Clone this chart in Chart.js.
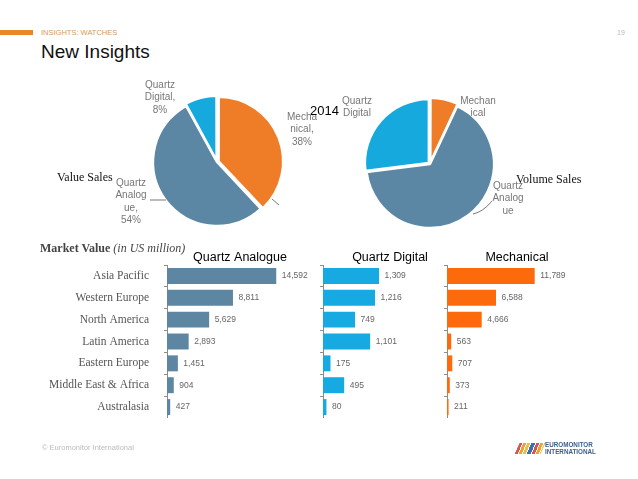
<!DOCTYPE html>
<html>
<head>
<meta charset="utf-8">
<script src="https://cdn.jsdelivr.net/npm/chart.js@4.4.0/dist/chart.umd.min.js"></script>
<style>
  html, body { margin: 0; padding: 0; background: #fff; }
  #slide { position: relative; width: 638px; height: 479px; overflow: hidden; font-family: "Liberation Sans", Arial, sans-serif; }
  #slide canvas, #slide .txt, #slide svg { position: absolute; }
  .txt { white-space: nowrap; }
  .pie-label { font-size: 10px; line-height: 12.3px; color: #777; text-align: center; white-space: normal; overflow-wrap: anywhere; }
  .serif { font-family: "Liberation Serif", "Times New Roman", serif; }
</style>
</head>
<body>
<div id="slide">
  <div style="position:absolute;left:0;top:30px;width:33px;height:5px;background:#e8862a;"></div>
  <div class="txt" style="left:41px;top:28px;font-size:7.5px;line-height:10px;color:#d39a5e;">INSIGHTS: WATCHES</div>
  <div class="txt" style="left:41px;top:42px;font-size:19px;line-height:19px;color:#111;">New Insights</div>
  <div class="txt" style="left:617px;top:28px;font-size:7px;line-height:10px;color:#bbb;">19</div>

  <canvas id="valuePie" width="170" height="170" style="left:132px;top:77px;"></canvas>
  <canvas id="volumePie" width="170" height="170" style="left:345px;top:79px;"></canvas>

  <svg width="638" height="479" style="left:0;top:0;">
    <line x1="150" y1="200" x2="166" y2="200" stroke="#555" stroke-width="0.8"/>
    <line x1="272" y1="199" x2="279" y2="205" stroke="#555" stroke-width="0.8"/>
    <path d="M473 214 Q483 212 492 201" fill="none" stroke="#555" stroke-width="0.8"/>
  </svg>

  <div id="pieLabels"></div>

  <div class="txt serif" style="left:57px;top:170px;font-size:12px;line-height:14px;color:#111;">Value Sales</div>
  <div class="txt serif" style="left:516px;top:172px;font-size:12px;line-height:14px;color:#111;">Volume Sales</div>
  <div class="txt" style="left:310px;top:103px;font-size:13px;line-height:16px;color:#000;">2014</div>

  <div class="txt serif" style="left:40px;top:241px;font-size:12px;line-height:14px;color:#444;"><b>Market Value</b> <i>(in US million)</i></div>

  <canvas id="barAnalogue" width="283" height="168" style="left:30px;top:250px;"></canvas>
  <canvas id="barDigital" width="140" height="168" style="left:317px;top:250px;"></canvas>
  <canvas id="barMechanical" width="146" height="168" style="left:441px;top:250px;"></canvas>

  <div class="txt" style="left:42px;top:443px;font-size:7.5px;line-height:10px;color:#bbb;">© Euromonitor International</div>
  <div style="position:absolute;left:517px;top:443px;width:26px;height:11px;transform:skewX(-25deg);background:repeating-linear-gradient(90deg,#d9534f 0 3px,#fff 3px 4px,#f0a030 4px 7px,#fff 7px 8px,#e5c341 8px 11px,#fff 11px 12px,#3a6fb0 12px 16px,#fff 16px 17px);"></div>
  <div class="txt" style="left:545px;top:442px;font-size:6.3px;line-height:6.5px;font-weight:bold;color:#3d5f8a;">EUROMONITOR<br>INTERNATIONAL</div>
</div>

<script>
// ---------- data ----------
const regions = ['Asia Pacific', 'Western Europe', 'North America', 'Latin America', 'Eastern Europe', 'Middle East & Africa', 'Australasia'];
const quartzAnalogue = [14592, 8811, 5629, 2893, 1451, 904, 427];
const quartzDigital = [1309, 1216, 749, 1101, 175, 495, 80];
const mechanical = [11789, 6588, 4666, 563, 707, 373, 211];

const pieSegments = ['Mechanical', 'Quartz Analogue', 'Quartz Digital'];
const valueShare = [38, 54, 8];
const volumeShare = [7, 66, 27];

const pieColors = ['#ef7d27', '#5b87a4', '#15a9dd'];

// ---------- pies ----------
function makePie(id, values, offsets) {
    return new Chart(document.getElementById(id), {
        type: 'pie',
        data: {
            labels: pieSegments,
            datasets: [{
                data: values,
                backgroundColor: pieColors,
                borderColor: '#fff',
                borderWidth: 2.5,
                offset: offsets
            }]
        },
        options: {
            responsive: false,
            animation: false,
            radius: 64,
            layout: { padding: 0 },
            plugins: { legend: { display: false }, tooltip: { enabled: false } }
        }
    });
}

makePie('valuePie', valueShare, [7, 0, 6]);
makePie('volumePie', volumeShare, [6, 0, 6]);

// pie labels (value pie shows share, volume pie only the name)
const pieLabelBoxes = [
    { text: `${pieSegments[2]}, ${valueShare[2]}%`, cx: 160, top: 79, w: 42 },
    { text: `${pieSegments[0]}, ${valueShare[0]}%`, cx: 302, top: 111, w: 32 },
    { text: `${pieSegments[1]}, ${valueShare[1]}%`, cx: 131, top: 177, w: 34 },
    { text: pieSegments[2], cx: 357, top: 95, w: 36 },
    { text: pieSegments[0], cx: 478, top: 95, w: 37 },
    { text: pieSegments[1], cx: 508, top: 180, w: 34 }
];
document.getElementById('pieLabels').innerHTML = pieLabelBoxes.map(b =>
    `<div class="txt pie-label" style="left:${b.cx - b.w / 2}px;top:${b.top}px;width:${b.w}px;">${b.text}</div>`
).join('');

// ---------- bars ----------
const valueLabels = {
    id: 'valueLabels',
    afterDatasetsDraw(chart) {
        const ctx = chart.ctx;
        const values = chart.data.datasets[0].data;
        ctx.save();
        ctx.font = '8.5px "Liberation Sans", Arial, sans-serif';
        ctx.fillStyle = '#666';
        ctx.textAlign = 'left';
        ctx.textBaseline = 'middle';
        chart.getDatasetMeta(0).data.forEach((bar, i) => {
            ctx.fillText(values[i].toLocaleString('en-US'), bar.x + 5.5, bar.y);
        });
        ctx.restore();
    }
};

function makeBarChart(id, title, values, color, maxValue, showLabels, axisWidth) {
    return new Chart(document.getElementById(id), {
        type: 'bar',
        data: {
            labels: regions,
            datasets: [{
                data: values,
                backgroundColor: color,
                barPercentage: 0.73,
                categoryPercentage: 1
            }]
        },
        options: {
            indexAxis: 'y',
            responsive: false,
            animation: false,
            layout: { padding: 0 },
            scales: {
                x: { display: false, min: 0, max: maxValue },
                y: {
                    border: { display: true, color: '#8c8c8c', width: 1 },
                    grid: { display: true, drawOnChartArea: false, drawTicks: true, tickLength: 3, color: '#8c8c8c', offset: true },
                    ticks: {
                        display: showLabels,
                        color: '#555',
                        padding: 15,
                        font: { family: '"Liberation Serif", "Times New Roman", serif', size: 11.5 }
                    },
                    afterFit(scale) {
                        scale.width = axisWidth;
                        scale.paddingTop = 0;
                        scale.paddingBottom = 0;
                    }
                }
            },
            plugins: {
                legend: { display: false },
                tooltip: { enabled: false },
                title: {
                    display: true,
                    text: title,
                    fullSize: false,
                    color: '#000',
                    padding: { top: 0, bottom: 0 },
                    font: { family: '"Liberation Sans", Arial, sans-serif', size: 12.5, weight: 'normal' }
                }
            }
        },
        plugins: [valueLabels]
    });
}

makeBarChart('barAnalogue', 'Quartz Analogue', quartzAnalogue, '#5d86a3', 19500, true, 137);
makeBarChart('barDigital', 'Quartz Digital', quartzDigital, '#17a9e1', 3130, false, 6);
makeBarChart('barMechanical', 'Mechanical', mechanical, '#fd6a0c', 18820, false, 6);
</script>
</body>
</html>
